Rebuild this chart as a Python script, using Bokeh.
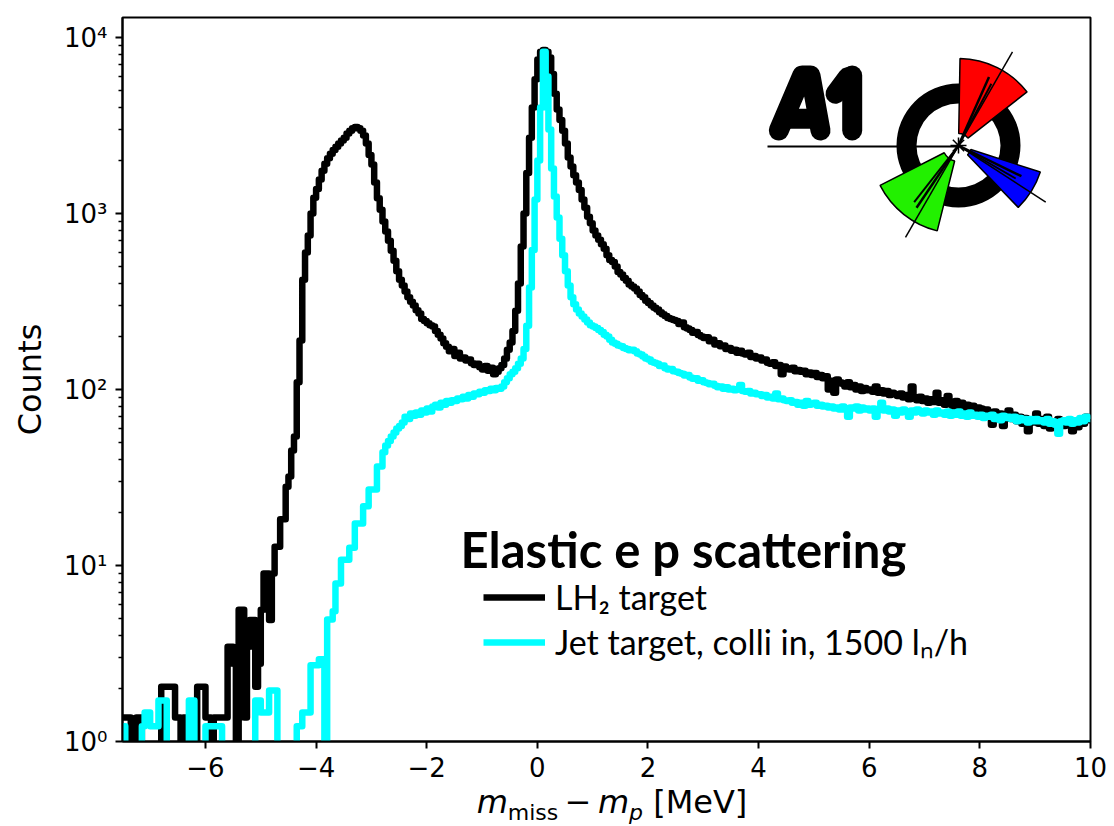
import numpy as np
from bokeh.plotting import figure
from bokeh.layouts import column
from bokeh.models import FixedTicker, Label, Legend, LegendItem, Range1d, Div
from bokeh.embed import file_html
from bokeh.resources import INLINE

# ---------------- data ----------------
bin_lo, bin_hi, bin_w = -7.5, 10.0, 0.05   # MeV

# LH2 target, 0.05 MeV bins, one row = 0.5 MeV
lh2_counts = [
    1.37, 1.37, 1.37, 0, 0, 1.37, 1.37, 0, 0, 0,
    0, 0, 0, 0, 2.05, 2.05, 2.05, 2.05, 2.05, 1.37,
    1.37, 0, 1.37, 1.37, 0, 0, 0, 2.05, 2.05, 2.05,
    1.37, 1.37, 0, 1.37, 1.37, 1.37, 1.37, 1.37, 3.46, 3.46,
    2.77, 0, 5.6, 5.6, 1.37, 3.46, 4.9, 4.9, 2.05, 2.77,
    5.6, 9.0, 9.0, 4.9, 9.0, 12.8, 12.8, 18.3, 18.3, 28,
    32, 45, 54, 110, 190, 420, 600, 750, 1000, 1230,
    1380, 1560, 1750, 1920, 2060, 2190, 2300, 2400, 2500, 2600,
    2700, 2850, 2950, 3050, 3100, 3050, 2950, 2780, 2500, 2150,
    1900, 1500, 1220, 1050, 900, 790, 700, 615, 540, 470,
    420, 390, 360, 335, 315, 300, 282, 270, 252, 245,
    238, 232, 228, 215, 205, 195, 183, 175, 165, 170,
    155, 162, 150, 152, 146, 148, 141, 138, 140, 134,
    130, 136, 128, 133, 122, 126, 132, 138, 150, 168,
    185, 215, 280, 400, 650, 1000, 1700, 2700, 4000, 5800,
    7500, 8300, 8500, 8300, 7700, 6200, 4800, 3900, 3400, 2950,
    2500, 2080, 1850, 1650, 1500, 1360, 1200, 1080, 960, 880,
    800, 750, 710, 670, 630, 580, 545, 530, 500, 465,
    450, 430, 415, 395, 385, 375, 360, 345, 335, 320,
    310, 300, 292, 285, 275, 268, 262, 255, 252, 248,
    245, 236, 240, 226, 222, 218, 210, 212, 204, 200,
    196, 198, 188, 192, 180, 183, 176, 178, 170, 172,
    166, 168, 162, 166, 160, 158, 162, 153, 155, 150,
    152, 146, 148, 142, 140, 143, 136, 138, 122, 135,
    132, 130, 133, 127, 129, 126, 128, 122, 125, 121,
    124, 118, 121, 116, 119, 100, 112, 96, 114, 110,
    108, 104, 110, 103, 106, 100, 104, 98, 102, 99,
    100, 97, 104, 96, 99, 95, 98, 93, 96, 94,
    92, 95, 90, 93, 88, 104, 90, 87, 91, 86,
    89, 84, 88, 85, 96, 84, 87, 82, 92, 84,
    80, 86, 79, 84, 78, 82, 77, 81, 76, 79,
    78, 74, 77, 72, 63, 75, 71, 73, 62, 70,
    76, 68, 72, 66, 70, 64, 69, 58, 67, 65,
    73, 64, 68, 62, 70, 60, 66, 63, 68, 64,
    62, 67, 63, 58, 65, 61, 68, 64, 70, 67,
]

# Jet target, same bins
jet_counts = [
    1.22, 0, 0, 0, 0, 0, 0, 1.22, 1.46, 1.46,
    1.22, 1.22, 1.22, 1.71, 1.71, 1.71, 0, 0, 0, 0,
    0, 0, 0, 0, 1.71, 1.71, 0, 0, 0, 0,
    1.22, 1.22, 1.22, 1.22, 1.22, 1.22, 0, 0, 0, 0,
    0, 0, 0, 0, 0, 0, 0, 0, 1.71, 1.71,
    1.46, 1.46, 1.46, 1.95, 1.95, 1.95, 0, 0, 0, 0,
    0, 0, 0, 1.22, 1.22, 1.46, 1.46, 1.46, 2.71, 2.71,
    2.71, 2.93, 2.93, 0, 4.93, 4.93, 5.5, 7.9, 7.9, 10.8,
    10.8, 10.8, 12.6, 12.6, 17.3, 17.3, 17.3, 21.7, 21.7, 27,
    27, 27, 36.5, 36.5, 44, 48, 51, 54, 57, 60,
    62, 65, 70, 68, 73, 71, 74, 72, 76, 74,
    78, 75, 80, 82, 79, 84, 82, 86, 84, 87,
    86, 89, 88, 91, 89, 93, 91, 95, 94, 97,
    96, 99, 98, 101, 99, 102, 101, 104, 110, 116,
    122, 126, 132, 140, 150, 170, 230, 380, 620, 1200,
    2000, 4000, 8300, 6000, 3000, 1800, 1250, 950, 720, 580,
    470, 390, 335, 305, 285, 270, 260, 250, 240, 232,
    228, 224, 218, 212, 205, 200, 192, 185, 182, 178,
    176, 172, 170, 167, 168, 165, 160, 158, 154, 150,
    148, 144, 142, 140, 136, 137, 132, 130, 131, 127,
    126, 124, 123, 120, 121, 117, 115, 116, 112, 113,
    110, 109, 107, 108, 105, 103, 104, 101, 103, 100,
    101, 99, 100, 106, 98, 97, 98, 95, 96, 94,
    94, 92, 93, 90, 91, 89, 95, 88, 89, 87,
    86, 87, 84, 85, 82, 84, 81, 86, 82, 83,
    84, 81, 82, 80, 81, 79, 80, 78, 79, 77,
    80, 77, 70, 79, 78, 80, 76, 79, 77, 78,
    76, 78, 70, 77, 84, 76, 78, 75, 77, 71,
    76, 74, 77, 75, 70, 76, 74, 77, 75, 73,
    76, 74, 75, 72, 76, 73, 74, 72, 75, 71,
    74, 72, 75, 71, 73, 70, 74, 71, 72, 70,
    72, 69, 71, 70, 72, 68, 70, 67, 71, 69,
    70, 68, 70, 66, 69, 67, 68, 65, 68, 66,
    68, 66, 67, 65, 68, 64, 66, 63, 56, 66,
    67, 65, 68, 64, 67, 65, 69, 66, 70, 68,
]

x_ticks = [-6, -4, -2, 0, 2, 4, 6, 8, 10]
x_tick_labels = ["−6", "−4", "−2", "0", "2", "4", "6", "8", "10"]
y_ticks = [1, 10, 100, 1000, 10000]
y_tick_labels = ["10⁰", "10¹", "10²", "10³", "10⁴"]
series_labels = ["LH₂ target", "Jet target, colli in, 1500 lₙ/h"]
series_colors = ["black", "#00ffff"]
title_text = "Elastic e p scattering"
y_label = "Counts"
SUB = "style='font-size:22px;position:relative;top:7px;vertical-align:baseline;line-height:0'"
x_label_html = ("<i>m</i><span " + SUB + ">miss</span>&thinsp;−&thinsp;"
                "<i>m</i><span " + SUB + "><i>p</i></span> [MeV]")

# ---------------- layout ----------------
X0, X1 = bin_lo, bin_hi
Y0, Y1 = 1.0, 13000.0
FL, FT, FW, FH = 122, 17, 968, 724      # frame position on the page (px)
FB = FT + FH
BOTTOM = 44                              # room for the x tick labels


def fx(px):
    """page pixel -> data x (used only for decorations)"""
    return X0 + (px - FL) / FW * (X1 - X0)


def fy(py):
    """page pixel -> data y (log axis, used only for decorations)"""
    l0, l1 = np.log10(Y0), np.log10(Y1)
    return 10 ** (l0 + (FB - py) / FH * (l1 - l0))


p = figure(frame_width=FW, frame_height=FH,
           x_range=Range1d(X0, X1), y_range=Range1d(Y0, Y1),
           y_axis_type="log", output_backend="svg", toolbar_location=None,
           min_border_left=FL, min_border_top=FT,
           min_border_right=1114 - FL - FW, min_border_bottom=BOTTOM)
p.grid.visible = False
p.outline_line_color = "black"
p.outline_line_width = 2
p.background_fill_color = "white"
p.border_fill_color = "white"

for ax in (p.xaxis[0], p.yaxis[0]):
    ax.axis_line_width = 2
    ax.major_tick_line_width = 2
    ax.minor_tick_line_width = 1.5
    ax.major_tick_out = 7
    ax.major_tick_in = 0
    ax.minor_tick_out = 4
    ax.minor_tick_in = 0
    ax.major_label_text_font = "DejaVu Sans"
    ax.major_label_text_font_size = "26px"
    ax.major_label_text_color = "black"

p.xaxis.ticker = FixedTicker(ticks=x_ticks, minor_ticks=[])
p.xaxis.major_label_overrides = dict(zip(x_ticks, x_tick_labels))
p.xaxis.major_label_standoff = 8

minor = [m * 10 ** d for d in range(0, 5) for m in range(2, 10)]
p.yaxis.ticker = FixedTicker(ticks=y_ticks, minor_ticks=minor)
p.yaxis.major_label_overrides = dict(zip(y_ticks, y_tick_labels))
p.yaxis.major_label_standoff = 8
p.yaxis.axis_label = y_label
p.yaxis.axis_label_text_font = "DejaVu Sans"
p.yaxis.axis_label_text_font_style = "normal"
p.yaxis.axis_label_text_font_size = "32px"
p.yaxis.axis_label_text_color = "black"
p.yaxis.axis_label_standoff = 12

# ---------------- histograms ----------------
edges = bin_lo + bin_w * np.arange(len(lh2_counts) + 1)
renderers = []
for counts, col in zip([lh2_counts, jet_counts], series_colors):
    c = np.asarray(counts, dtype=float)
    c = np.where(c > 0, c, 1e-2)
    r = p.step(x=edges, y=np.append(c, c[-1]), mode="after",
               line_color=col, line_width=6.5, line_join="round")
    renderers.append(r)

legend = Legend(items=[LegendItem(label=lab, renderers=[r])
                       for lab, r in zip(series_labels, renderers)],
                location=(361, 76))
legend.border_line_alpha = 0
legend.background_fill_alpha = 0
legend.label_text_font = "Lato"
legend.label_text_font_size = "34px"
legend.label_text_color = "black"
legend.glyph_width = 62
legend.glyph_height = 20
legend.label_height = 20
legend.spacing = 2
legend.padding = 0
legend.margin = 0
legend.label_standoff = 10
p.add_layout(legend)

# ---------------- title text ----------------
p.add_layout(Label(x=fx(460), y=fy(548), text=title_text, text_font="Lato",
                   text_font_style="bold", text_font_size="49px",
                   text_color="black", text_baseline="alphabetic"))

# ---------------- A1 logo (decoration) ----------------
cx, cy = fx(958), fy(145)
p.segment(x0=fx(767), y0=fy(146), x1=cx, y1=fy(146), line_color="black", line_width=2)
p.annulus(x=cx, y=cy, inner_radius=42, outer_radius=62,
          inner_radius_units="screen", outer_radius_units="screen",
          fill_color="black", line_color=None)
for a0, a1, r0, r1, colr in [(38, 89, 12, 87, "#ff0000"), (-46, -18, 13, 86, "#0000ff"),
                             (207, 256, 16, 88, "#22f000")]:
    p.annular_wedge(x=cx, y=cy, inner_radius=r0, outer_radius=r1,
                    inner_radius_units="screen", outer_radius_units="screen",
                    start_angle=a0, end_angle=a1, start_angle_units="deg",
                    end_angle_units="deg", fill_color=colr,
                    line_color="black", line_width=1.5)
for ang, ln, lw in [(60, 108, 1.5), (240, 106, 1.5), (-33, 104, 1.5),
                    (66, 75, 2.5), (62, 70, 2), (236, 75, 2.5), (232, 72, 2),
                    (-26, 70, 2.5), (-30, 66, 2)]:
    p.ray(x=cx, y=cy, length=ln, length_units="screen", angle=ang,
          angle_units="deg", line_color="black", line_width=lw)
p.scatter(x=[cx], y=[cy], marker="asterisk", size=16, line_color="black", line_width=1.5)
a_strokes = [[(778.3, 130), (801.7, 75), (810, 75), (820, 130)],
             [(788.3, 118.3), (817.3, 118.3)],
             [(851.7, 75), (851.7, 130)],
             [(835, 93.3), (847.3, 76.7)]]
p.multi_line(xs=[[fx(a) for a, b in s] for s in a_strokes],
             ys=[[fy(b) for a, b in s] for s in a_strokes],
             line_color="black", line_width=20, line_cap="round", line_join="round")

# ---------------- x axis label (rich text below the figure) ----------------
fig_h = FT + FH + BOTTOM
xlab = Div(text=("<div style='width:%dpx;font-family:\"DejaVu Sans\";font-size:32px;"
                 "color:black;line-height:34px;text-align:center;white-space:nowrap'>"
                 % FW + x_label_html + "</div>"),
           width=FW, height=826 - fig_h, margin=(0, 0, 0, FL + 6))

layout = column(p, xlab, spacing=0)
open("out.html", "w").write(file_html(layout, INLINE))
